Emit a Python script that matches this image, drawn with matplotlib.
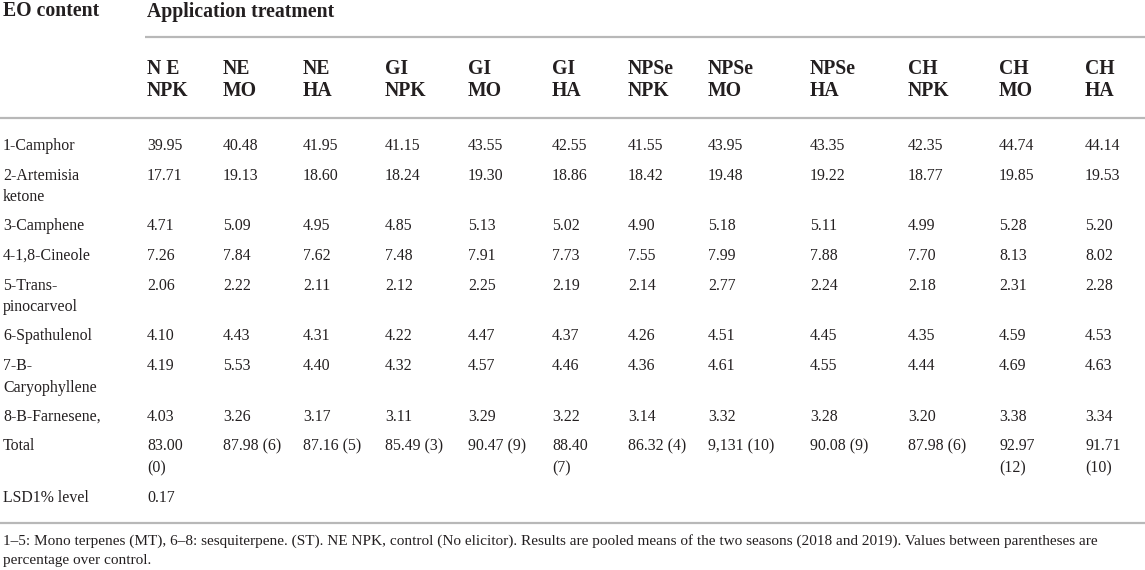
import matplotlib.pyplot as plt

# table content
treatments = ["N E\nNPK", "NE\nMO", "NE\nHA", "GI\nNPK", "GI\nMO", "GI\nHA",
              "NPSe\nNPK", "NPSe\nMO", "NPSe\nHA", "CH\nNPK", "CH\nMO", "CH\nHA"]
compounds = ["1-Camphor", "2-Artemisia\nketone", "3-Camphene", "4-1,8-Cineole",
             "5-Trans-\npinocarveol", "6-Spathulenol", "7-B-\nCaryophyllene",
             "8-B-Farnesene,"]
camphor = [39.95, 40.48, 41.95, 41.15, 43.55, 42.55, 41.55, 43.95, 43.35, 42.35, 44.74, 44.14]
artemisia = [17.71, 19.13, 18.60, 18.24, 19.30, 18.86, 18.42, 19.48, 19.22, 18.77, 19.85, 19.53]
camphene = [4.71, 5.09, 4.95, 4.85, 5.13, 5.02, 4.90, 5.18, 5.11, 4.99, 5.28, 5.20]
cineole = [7.26, 7.84, 7.62, 7.48, 7.91, 7.73, 7.55, 7.99, 7.88, 7.70, 8.13, 8.02]
pinocarveol = [2.06, 2.22, 2.11, 2.12, 2.25, 2.19, 2.14, 2.77, 2.24, 2.18, 2.31, 2.28]
spathulenol = [4.10, 4.43, 4.31, 4.22, 4.47, 4.37, 4.26, 4.51, 4.45, 4.35, 4.59, 4.53]
caryophyllene = [4.19, 5.53, 4.40, 4.32, 4.57, 4.46, 4.36, 4.61, 4.55, 4.44, 4.69, 4.63]
farnesene = [4.03, 3.26, 3.17, 3.11, 3.29, 3.22, 3.14, 3.32, 3.28, 3.20, 3.38, 3.34]
totals = ["83.00\n(0)", "87.98 (6)", "87.16 (5)", "85.49 (3)", "90.47 (9)", "88.40\n(7)",
          "86.32 (4)", "9,131 (10)", "90.08 (9)", "87.98 (6)", "92.97\n(12)", "91.71\n(10)"]
lsd = ["0.17"]
footnote = ("1\u20135: Mono terpenes (MT), 6\u20138: sesquiterpene. (ST). NE NPK, control (No elicitor). "
            "Results are pooled means of the two seasons (2018 and 2019). Values between parentheses are\n"
            "percentage over control.")

rows = [(c, ["%.2f" % v for v in vals]) for c, vals in zip(
    compounds, [camphor, artemisia, camphene, cineole, pinocarveol,
                spathulenol, caryophyllene, farnesene])]
rows.append(("Total", totals))
rows.append(("LSD1% level", lsd))

# layout (pixels)
W, H = 1145, 570
col_x = [147, 223, 303, 385, 468, 552, 628, 708, 810, 908, 999, 1085]
txt = "#231f20"
rule = "#b8b8b8"
font = "Liberation Serif"
body = 11.4
head = 14.2
lh = 21.5

fig = plt.figure(figsize=(W / 100, H / 100), dpi=100)
ax = fig.add_axes([0, 0, 1, 1])
ax.set_xlim(0, W)
ax.set_ylim(H, 0)
ax.axis("off")


def cell(x, y, s, size, bold=False, step=lh, cap=10):
    for i, line in enumerate(s.split("\n")):
        ax.text(x, y + i * step + cap / 2, line, fontsize=size, family=font,
                fontweight="bold" if bold else "normal", color=txt,
                ha="left", va="baseline")


cell(3, 10, "EO content", head, bold=True, cap=13)
cell(col_x[0], 10, "Application treatment", head, bold=True, cap=13)
ax.plot([col_x[0] - 2, W], [37, 37], color=rule, lw=1.6, solid_capstyle="butt")
for x, t in zip(col_x, treatments):
    cell(x, 67, t, head, bold=True, step=23, cap=13)
ax.plot([0, W], [117.5, 117.5], color=rule, lw=1.6, solid_capstyle="butt")

y = 145
for name, vals in rows:
    cell(3, y, name, body)
    for x, v in zip(col_x, vals):
        cell(x, y, v, body)
    n = max(s.count("\n") + 1 for s in [name] + vals)
    y += 29.5 + lh * (n - 1)

ax.plot([0, W], [523, 523], color=rule, lw=1.6, solid_capstyle="butt")
cell(3, 541, footnote, 11.0, step=19, cap=8)

fig.savefig("out.png", dpi=100)
